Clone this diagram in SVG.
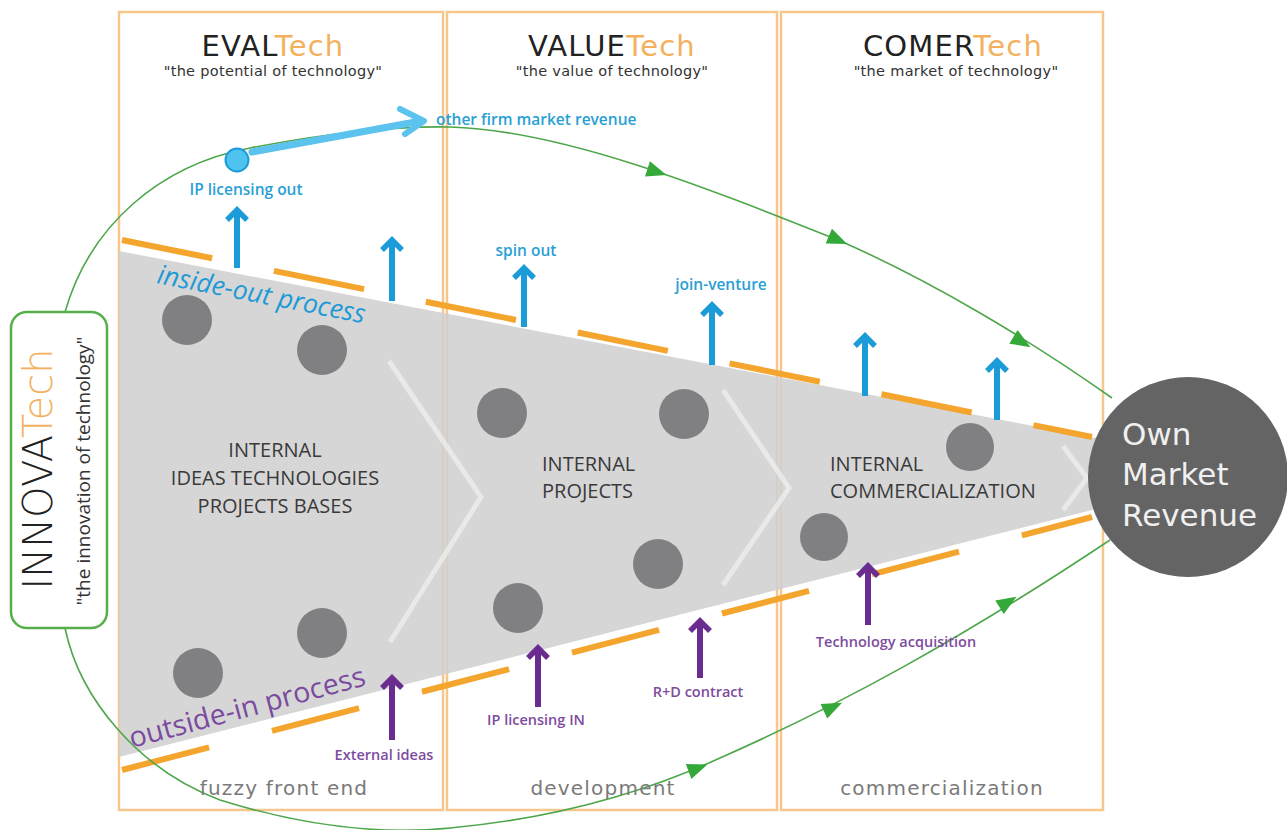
<svg xmlns="http://www.w3.org/2000/svg" width="1287" height="830" viewBox="0 0 1287 830">
  <defs>
    <style>
      .panel { fill: none; stroke: #f7c68d; stroke-width: 2.5; }
      .hdr { font-family: "DejaVu Sans", "Liberation Sans", sans-serif; font-size: 29px; letter-spacing: 1.2px; fill: #222; text-anchor: middle; }
      .tech { fill: #f3b15e; }
      .sub { font-family: "DejaVu Sans", "Liberation Sans", sans-serif; font-size: 14.5px; letter-spacing: 0.3px; fill: #333; text-anchor: middle; }
      .phase { font-family: "DejaVu Sans", "Liberation Sans", sans-serif; font-size: 20px; letter-spacing: 1.2px; fill: #7a7a7a; text-anchor: middle; }
      .dash { fill: none; stroke: #f4a52e; stroke-width: 6; }
      .dot { fill: #808083; }
      .chev { fill: none; stroke: #efefef; stroke-width: 5; stroke-opacity: 0.75; }
      .inner { font-family: "Open Sans", "Liberation Sans", sans-serif; font-size: 20px; fill: #3a3a3a; }
      .up-b { fill: none; stroke: #1b9bd7; stroke-width: 6; }
      .up-p { fill: none; stroke: #6a2d8f; stroke-width: 6; }
      .lbl-b { font-family: "Open Sans", "Liberation Sans", sans-serif; font-weight: 600; font-size: 15.5px; fill: #2a9fd6; text-anchor: middle; }
      .lbl-p { font-family: "Open Sans", "Liberation Sans", sans-serif; font-weight: 600; font-size: 14.5px; fill: #7d4c9e; text-anchor: middle; }
      .flow { fill: none; stroke: #4ea64a; stroke-width: 1.6; }
      .tri { fill: #35a83a; }
    </style>
    <marker id="headB" viewBox="-14 -14 28 28" markerWidth="28" markerHeight="28" refX="0" refY="0" orient="auto" markerUnits="userSpaceOnUse">
      <path d="M-10,-10 L0,0 L-10,10" fill="none" stroke="#1b9bd7" stroke-width="5.5"/>
    </marker>
    <marker id="headP" viewBox="-14 -14 28 28" markerWidth="28" markerHeight="28" refX="0" refY="0" orient="auto" markerUnits="userSpaceOnUse">
      <path d="M-10,-10 L0,0 L-10,10" fill="none" stroke="#6a2d8f" stroke-width="5.5"/>
    </marker>
    <path id="tri" d="M-10,-8 L10,0 L-10,8 Z"/>
  </defs>

  <rect width="1287" height="830" fill="#ffffff"/>

  <!-- stage panels -->
  <g id="panels">
    <rect class="panel" x="119" y="12" width="324" height="798"/>
    <rect class="panel" x="447" y="12" width="330" height="798"/>
    <rect class="panel" x="781" y="12" width="322" height="798"/>
  </g>

  <!-- funnel -->
  <g id="funnel">
    <polygon points="119,251 1096,438 1096,509 119,757" fill="#d0d0d1" fill-opacity="0.88"/>
    <polyline class="chev" points="389,361 481,497 390,642"/>
    <polyline class="chev" points="723,390 789,488 723,585"/>
    <polyline class="chev" points="1063,446 1087,478 1063,510"/>
  </g>

  <!-- open-innovation boundary -->
  <g id="boundary">
    <line class="dash" x1="122" y1="240" x2="1092" y2="437" stroke-dasharray="92 63"/>
    <line class="dash" x1="122" y1="770" x2="1092" y2="517" stroke-dasharray="90 65"/>
  </g>

  <!-- project dots -->
  <g id="dots">
    <circle class="dot" cx="187" cy="320" r="25"/>
    <circle class="dot" cx="322" cy="350" r="25"/>
    <circle class="dot" cx="502" cy="413" r="25"/>
    <circle class="dot" cx="684" cy="414" r="25"/>
    <circle class="dot" cx="970" cy="447" r="24"/>
    <circle class="dot" cx="824" cy="537" r="24"/>
    <circle class="dot" cx="658" cy="564" r="25"/>
    <circle class="dot" cx="518" cy="608" r="25"/>
    <circle class="dot" cx="322" cy="633" r="25"/>
    <circle class="dot" cx="198" cy="673" r="25"/>
  </g>

  <!-- connectors -->
  <g id="connectors">
    <path class="flow" d="M65,312 C90,225 160,165 250,148 C330,133 390,126 450,127 C560,130 700,185 838,240 C930,280 1030,340 1112,398"/>
    <path class="flow" d="M65,628 C80,700 140,770 220,800 C300,825 380,835 450,828 C560,818 650,790 720,758 C840,705 960,640 1110,540"/>
    <use href="#tri" class="tri" transform="translate(657,172) rotate(18)"/>
    <use href="#tri" class="tri" transform="translate(838,240) rotate(23)"/>
    <use href="#tri" class="tri" transform="translate(1022,342) rotate(31)"/>
    <use href="#tri" class="tri" transform="translate(698,768) rotate(-20)"/>
    <use href="#tri" class="tri" transform="translate(833,707) rotate(-25)"/>
    <use href="#tri" class="tri" transform="translate(1008,602) rotate(-32)"/>

    <line x1="252" y1="152" x2="421" y2="121" stroke="#5cc2ee" stroke-width="7" stroke-linecap="round"/>
    <path d="M400,109 L424,121 L405,134" fill="none" stroke="#5cc2ee" stroke-width="6" stroke-linecap="round" stroke-linejoin="round"/>

    <line class="up-b" x1="237" y1="268" x2="237" y2="210" marker-end="url(#headB)"/>
    <line class="up-b" x1="392" y1="301" x2="392" y2="240" marker-end="url(#headB)"/>
    <line class="up-b" x1="524" y1="327" x2="524" y2="268" marker-end="url(#headB)"/>
    <line class="up-b" x1="712" y1="365" x2="712" y2="305" marker-end="url(#headB)"/>
    <line class="up-b" x1="865" y1="396" x2="865" y2="336" marker-end="url(#headB)"/>
    <line class="up-b" x1="997" y1="420" x2="997" y2="361" marker-end="url(#headB)"/>

    <line class="up-p" x1="392" y1="740" x2="392" y2="678" marker-end="url(#headP)"/>
    <line class="up-p" x1="538" y1="707" x2="538" y2="648" marker-end="url(#headP)"/>
    <line class="up-p" x1="700" y1="678" x2="700" y2="621" marker-end="url(#headP)"/>
    <line class="up-p" x1="868" y1="625" x2="868" y2="566" marker-end="url(#headP)"/>
  </g>

  <!-- stage headers -->
  <g id="evaltech">
    <text class="hdr" x="273" y="56">EVAL<tspan class="tech">Tech</tspan></text>
    <text class="sub" x="273" y="76">"the potential of technology"</text>
    <text class="phase" x="284" y="795">fuzzy front end</text>
  </g>
  <g id="valuetech">
    <text class="hdr" x="612" y="56">VALUE<tspan class="tech">Tech</tspan></text>
    <text class="sub" x="612" y="76">"the value of technology"</text>
    <text class="phase" x="603" y="795">development</text>
  </g>
  <g id="comertech">
    <text class="hdr" x="953" y="56">COMER<tspan class="tech">Tech</tspan></text>
    <text class="sub" x="956" y="76">"the market of technology"</text>
    <text class="phase" x="942" y="795">commercialization</text>
  </g>

  <!-- funnel labels -->
  <g id="internal-ideas">
    <text class="inner" text-anchor="middle" x="275" y="457">INTERNAL</text>
    <text class="inner" text-anchor="middle" x="275" y="485">IDEAS TECHNOLOGIES</text>
    <text class="inner" text-anchor="middle" x="275" y="513">PROJECTS BASES</text>
  </g>
  <g id="internal-projects">
    <text class="inner" x="542" y="471">INTERNAL</text>
    <text class="inner" x="542" y="498">PROJECTS</text>
  </g>
  <g id="internal-commercialization">
    <text class="inner" x="830" y="471">INTERNAL</text>
    <text class="inner" x="830" y="498">COMMERCIALIZATION</text>
  </g>

  <text transform="translate(156,283) rotate(11)" font-family="'Open Sans', 'Liberation Sans', sans-serif" font-style="italic" font-size="26.5" fill="#1e9ad6">inside-out process</text>
  <text transform="translate(132,748) rotate(-15)" font-family="'Open Sans', 'Liberation Sans', sans-serif" font-size="28.5" fill="#7b4a9e">outside-in process</text>

  <!-- outbound routes -->
  <g id="ip-licensing-out">
    <circle cx="237" cy="160" r="11.5" fill="#4fc3f0" stroke="#1b9bd7" stroke-width="2"/>
    <text class="lbl-b" x="246" y="195">IP licensing out</text>
  </g>
  <text id="other-firm" class="lbl-b" x="436" y="125" style="text-anchor:start">other firm market revenue</text>
  <text id="spin-out" class="lbl-b" x="526" y="256">spin out</text>
  <text id="join-venture" class="lbl-b" x="721" y="290">join-venture</text>

  <!-- inbound routes -->
  <text id="external-ideas" class="lbl-p" x="384" y="760">External ideas</text>
  <text id="ip-licensing-in" class="lbl-p" x="536" y="725">IP licensing IN</text>
  <text id="rd-contract" class="lbl-p" x="698" y="697">R+D contract</text>
  <text id="tech-acquisition" class="lbl-p" x="896" y="647">Technology acquisition</text>

  <!-- own market revenue -->
  <g id="own-market-revenue">
    <circle cx="1188" cy="477" r="100" fill="#646464"/>
    <g font-family="'DejaVu Sans', 'Liberation Sans', sans-serif" font-size="31" fill="#f0f0f0">
      <text x="1122" y="445">Own</text>
      <text x="1122" y="485">Market</text>
      <text x="1122" y="526">Revenue</text>
    </g>
  </g>

  <!-- innovation source -->
  <g id="innovatech">
    <rect x="11" y="312" width="96" height="316" rx="16" fill="#ffffff" stroke="#55b04a" stroke-width="2.5"/>
    <text transform="translate(52,469) rotate(-90)" text-anchor="middle" font-family="'DejaVu Sans', 'Liberation Sans', sans-serif" font-weight="200" font-size="40" fill="#222">INNOVA<tspan fill="#f3b15e">Tech</tspan></text>
    <text transform="translate(90,471) rotate(-90)" text-anchor="middle" font-family="'Open Sans', 'Liberation Sans', sans-serif" font-size="19" fill="#333">"the innovation of technology"</text>
  </g>
</svg>
